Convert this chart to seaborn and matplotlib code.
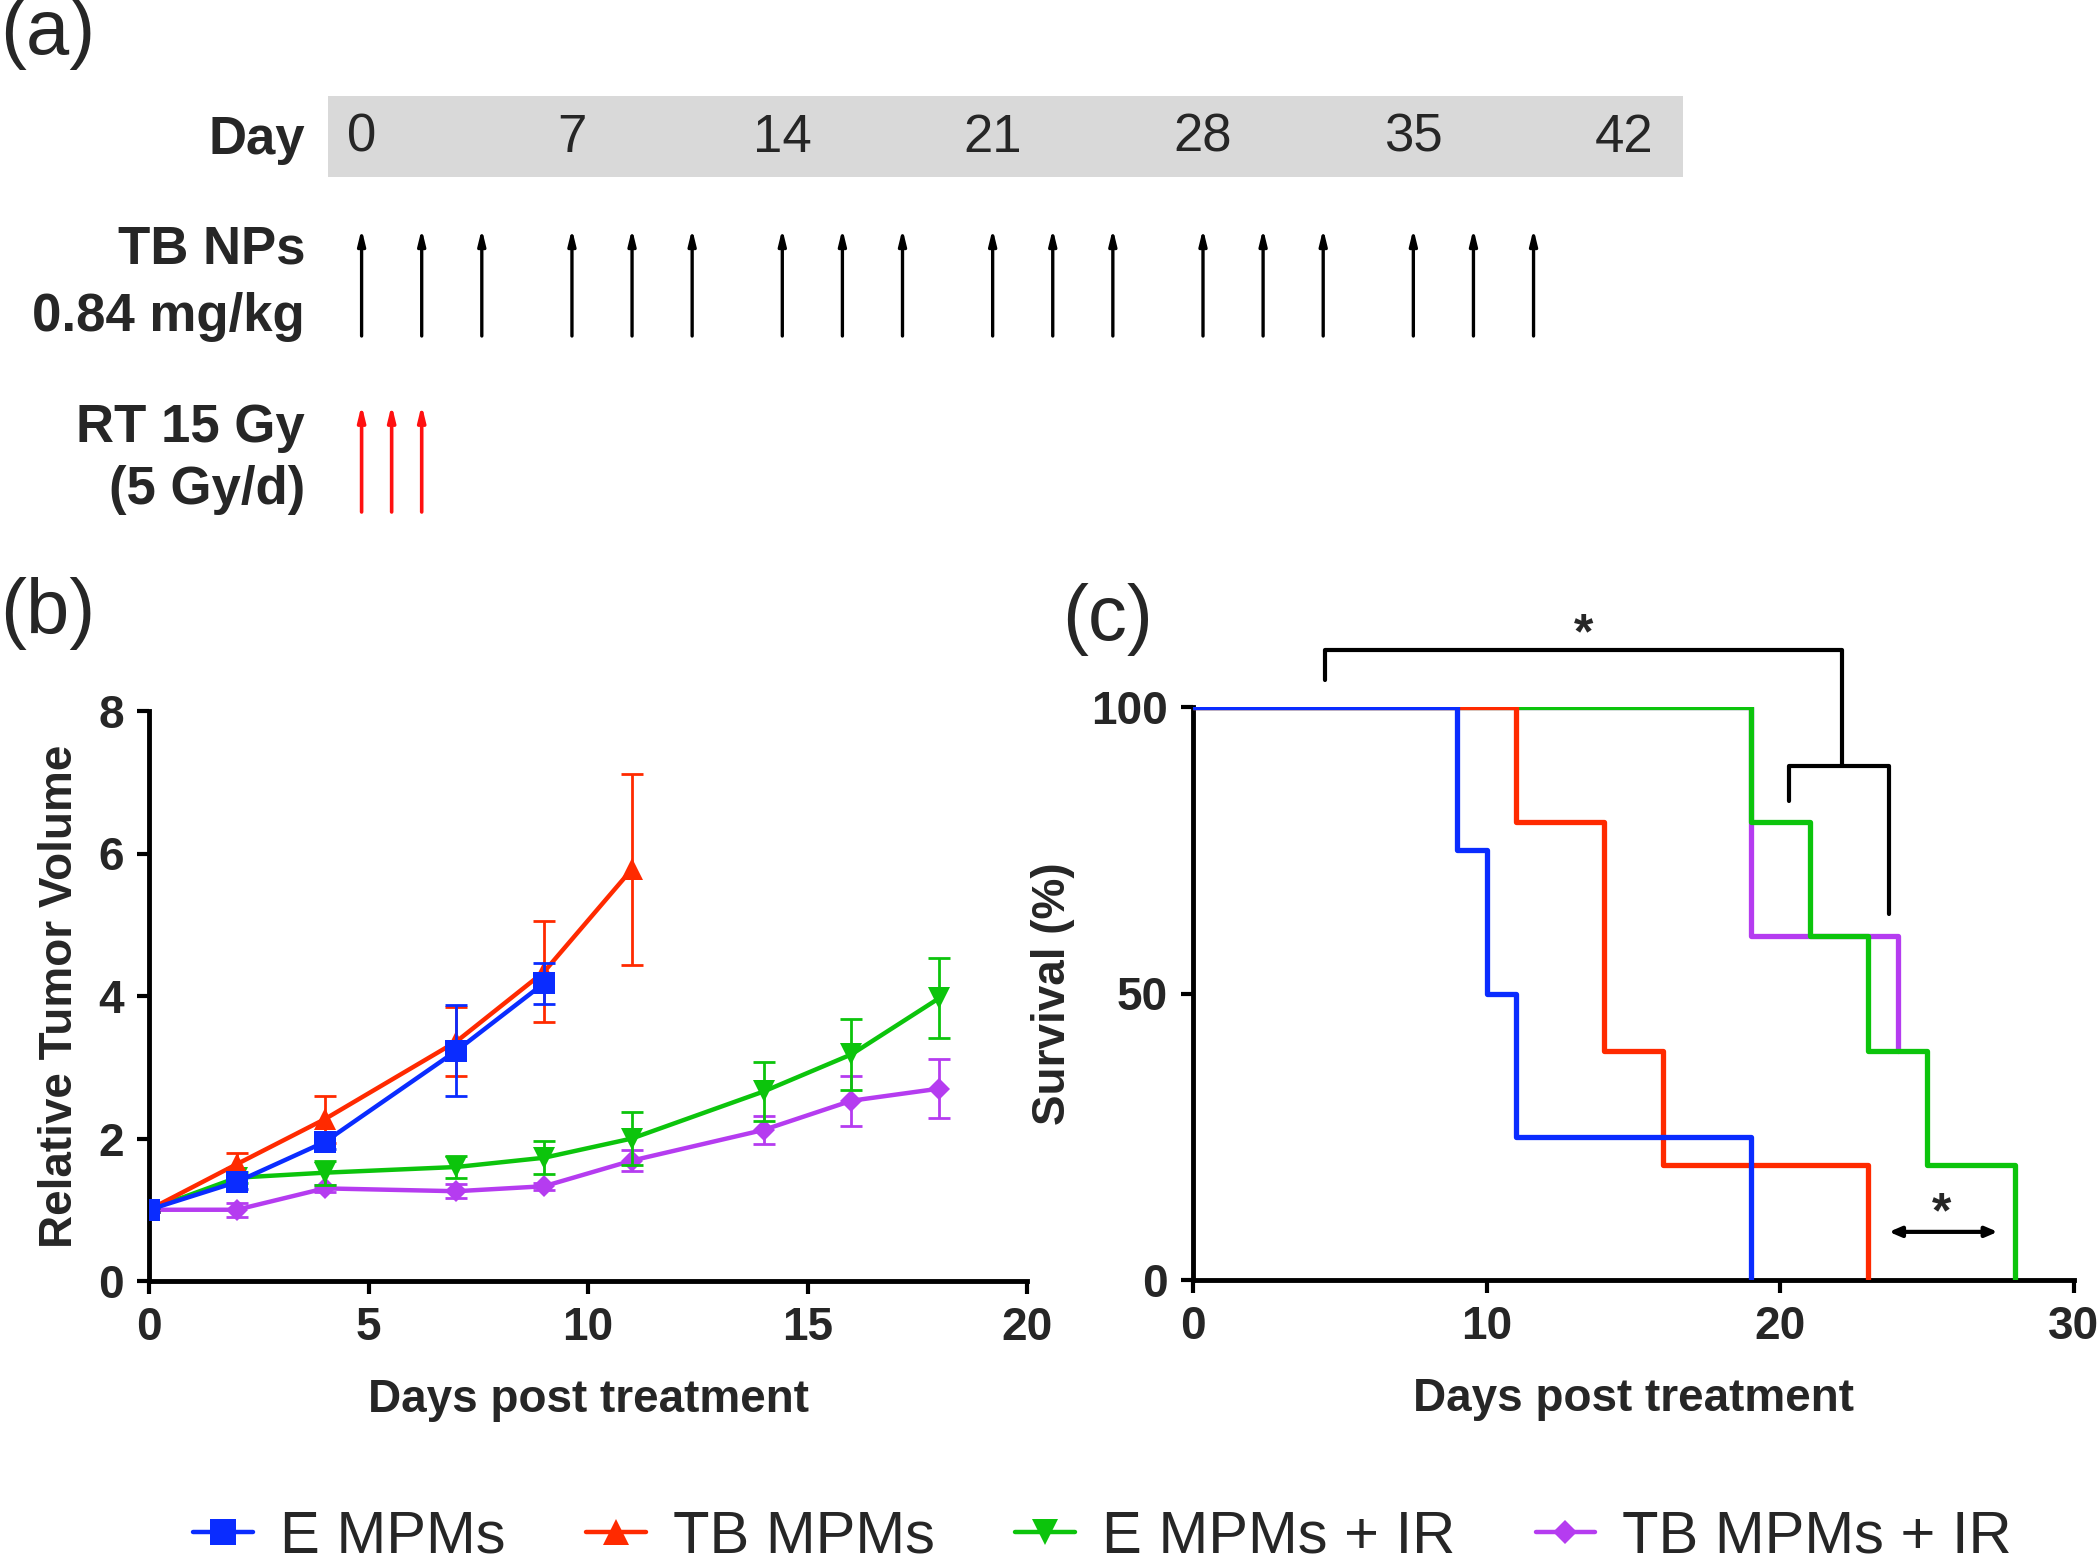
import matplotlib
matplotlib.use('Agg')
import matplotlib.pyplot as plt
import numpy as np
import pandas as pd
import seaborn as sns

sns.set_style('white')
plt.rcParams['font.family'] = ['Liberation Sans', 'DejaVu Sans']

# ---- данные ----
groups = ['E MPMs', 'TB MPMs', 'E MPMs + IR', 'TB MPMs + IR']
colors = ['#0a2cff', '#ff2a00', '#0cc40c', '#b53cf0']
markers = ['s', '^', 'v', 'D']
msizes = [16, 16, 16, 11]

# (a) схема лечения
day_ticks = [0, 7, 14, 21, 28, 35, 42]
np_days = [0, 2, 4, 7, 9, 11, 14, 16, 18, 21, 23, 25, 28, 30, 32, 35, 37, 39]
rt_days = [0, 1, 2]

# (b) объём опухоли
days_e = [0, 2, 4, 7, 9]
vol_e = [1.0, 1.39, 1.95, 3.23, 4.18]
err_e = [0.03, 0.1, 0.1, 0.64, 0.29]
days_tb = [0, 2, 4, 7, 9, 11]
vol_tb = [1.0, 1.64, 2.27, 3.36, 4.34, 5.78]
err_tb = [0.03, 0.15, 0.33, 0.48, 0.71, 1.34]
days_ir = [0, 2, 4, 7, 9, 11, 14, 16, 18]
vol_eir = [1.0, 1.45, 1.52, 1.6, 1.73, 2.0, 2.66, 3.18, 3.97]
err_eir = [0.03, 0.08, 0.17, 0.15, 0.23, 0.37, 0.41, 0.5, 0.56]
vol_tbir = [1.0, 1.0, 1.3, 1.26, 1.33, 1.69, 2.12, 2.53, 2.7]
err_tbir = [0.03, 0.1, 0.05, 0.1, 0.05, 0.15, 0.2, 0.35, 0.41]

# (c) выживаемость
km_t_e = [0, 9, 10, 11, 19]
km_s_e = [100, 75, 50, 25, 0]
km_t_tb = [0, 11, 14, 16, 23]
km_s_tb = [100, 80, 40, 20, 0]
km_t_eir = [0, 19, 21, 23, 25, 28]
km_s_eir = [100, 80, 60, 40, 20, 0]
km_t_tbir = [0, 19, 24]
km_s_tbir = [100, 60, 40]

fig = plt.figure(figsize=(21, 15.66), dpi=100)

# ---------------- (a) ----------------
# ось в днях по x, в пикселях по y
px_day = 30.05
x0 = 361.6
ax_a = fig.add_axes([0, 1 - 540 / 1566, 1, 540 / 1566])
ax_a.set_xlim(-x0 / px_day, (2100 - x0) / px_day)
ax_a.set_ylim(540, 0)
ax_a.axis('off')

ax_a.axvspan(-1.12, 43.97, ymin=1 - 177 / 540, ymax=1 - 96 / 540, color='#d9d9d9', lw=0)
lab_x = (305 - x0) / px_day
fs_a = 38
ax_a.text(lab_x, 140, 'Day', ha='right', va='center', fontsize=fs_a, fontweight='bold')
for d in day_ticks:
    ax_a.text(d, 138, str(d), ha='center', va='center', fontsize=fs_a)

ax_a.text(lab_x, 250, 'TB NPs', ha='right', va='center', fontsize=fs_a, fontweight='bold')
ax_a.text(lab_x, 317, '0.84 mg/kg', ha='right', va='center', fontsize=fs_a, fontweight='bold')
for d in np_days:
    ax_a.annotate('', xy=(d, 229), xytext=(d, 336),
                  arrowprops=dict(arrowstyle='-|>,head_length=0.9,head_width=0.22',
                                  color='black', lw=2.4, shrinkA=0, shrinkB=0))

ax_a.text(lab_x, 428, 'RT 15 Gy', ha='right', va='center', fontsize=fs_a, fontweight='bold')
ax_a.text(lab_x, 490, '(5 Gy/d)', ha='right', va='center', fontsize=fs_a, fontweight='bold')
for d in rt_days:
    ax_a.annotate('', xy=(d, 405), xytext=(d, 512),
                  arrowprops=dict(arrowstyle='-|>,head_length=0.9,head_width=0.22',
                                  color='#ff1010', lw=2.6, shrinkA=0, shrinkB=0))

fig.text(0.0, 1 - 33 / 1566, '(a)', ha='left', va='center', fontsize=56)
fig.text(0.0, 1 - 613 / 1566, '(b)', ha='left', va='center', fontsize=56)
fig.text(1062 / 2100, 1 - 619 / 1566, '(c)', ha='left', va='center', fontsize=56)

# ---------------- (b) ----------------
ax_b = fig.add_axes([149 / 2100, 1 - 1281 / 1566, (1027 - 149) / 2100, (1281 - 711) / 1566])
series_b = [(days_e, vol_e, err_e), (days_tb, vol_tb, err_tb),
            (days_ir, vol_eir, err_eir), (days_ir, vol_tbir, err_tbir)]
for i in [3, 2, 1, 0]:
    dd, vv, ee = series_b[i]
    df = pd.DataFrame({'day': dd, 'vol': vv})
    ax_b.errorbar(dd, vv, yerr=ee, fmt='none', ecolor=colors[i], elinewidth=2,
                  capsize=8, capthick=2, zorder=10 - i)
    sns.lineplot(data=df, x='day', y='vol', ax=ax_b, color=colors[i], lw=3.2,
                 marker=markers[i], markersize=msizes[i],
                 markeredgewidth=0, zorder=11 - i, label=groups[i])
ax_b.get_legend().remove()
ax_b.set_xlim(0, 20)
ax_b.set_ylim(0, 8)
ax_b.set_xticks([0, 5, 10, 15, 20])
ax_b.set_yticks([0, 2, 4, 6, 8])
ax_b.set_xlabel('Days post treatment', fontsize=33, fontweight='bold', labelpad=20)
ax_b.set_ylabel('Relative Tumor Volume', fontsize=33, fontweight='bold', labelpad=12)

# ---------------- (c) ----------------
ax_c = fig.add_axes([1193 / 2100, 1 - 1280 / 1566, (2074 - 1193) / 2100, (1280 - 707) / 1566])
series_c = [(km_t_e, km_s_e), (km_t_tb, km_s_tb), (km_t_eir, km_s_eir), (km_t_tbir, km_s_tbir)]
for i in [3, 2, 1, 0]:
    tt, ss = series_c[i]
    df = pd.DataFrame({'t': tt, 's': ss})
    sns.lineplot(data=df, x='t', y='s', ax=ax_c, color=colors[i], lw=3.8,
                 drawstyle='steps-post', zorder=10 - i)
ax_c.set_xlim(0, 30)
ax_c.set_ylim(0, 100)
ax_c.set_xticks([0, 10, 20, 30])
ax_c.set_yticks([0, 50, 100])
ax_c.set_xlabel('Days post treatment', fontsize=33, fontweight='bold', labelpad=20)
ax_c.set_ylabel('Survival (%)', fontsize=33, fontweight='bold', labelpad=12)

# скобки значимости
kw = dict(color='black', lw=3, clip_on=False, solid_capstyle='round')
ax_c.plot([4.5, 4.5, 22.1, 22.1], [104.7, 110, 110, 89.7], **kw)
ax_c.plot([20.3, 20.3, 23.7, 23.7], [83.6, 89.7, 89.7, 63.8], **kw)
ax_c.text(13.3, 108.5, '*', ha='center', va='bottom', fontsize=36, fontweight='bold')
ax_c.annotate('', xy=(23.7, 8.4), xytext=(27.4, 8.4),
              arrowprops=dict(arrowstyle='<|-|>,head_length=0.7,head_width=0.3',
                              color='black', lw=3, shrinkA=0, shrinkB=0))
ax_c.text(25.5, 7.5, '*', ha='center', va='bottom', fontsize=36, fontweight='bold')

for ax in [ax_b, ax_c]:
    sns.despine(ax=ax)
    for s in ['left', 'bottom']:
        ax.spines[s].set_linewidth(3.5)
        ax.spines[s].set_color('black')
    ax.tick_params(axis='both', which='major', direction='out', length=9, width=3,
                   labelsize=33, left=True, bottom=True, color='black', pad=9)
    for lab in ax.get_xticklabels() + ax.get_yticklabels():
        lab.set_fontweight('bold')

# легенда
h, l = ax_b.get_legend_handles_labels()
order = [l.index(g) for g in groups]
fig.legend([h[k] for k in order], [l[k] for k in order], loc='center',
           bbox_to_anchor=(0.525, 1 - 1537 / 1566), ncol=4, frameon=False,
           fontsize=43, handlelength=1.0, handletextpad=0.45, columnspacing=1.35,
           borderpad=0.2, markerscale=1.15)

fig.savefig('out.png', dpi=100)
